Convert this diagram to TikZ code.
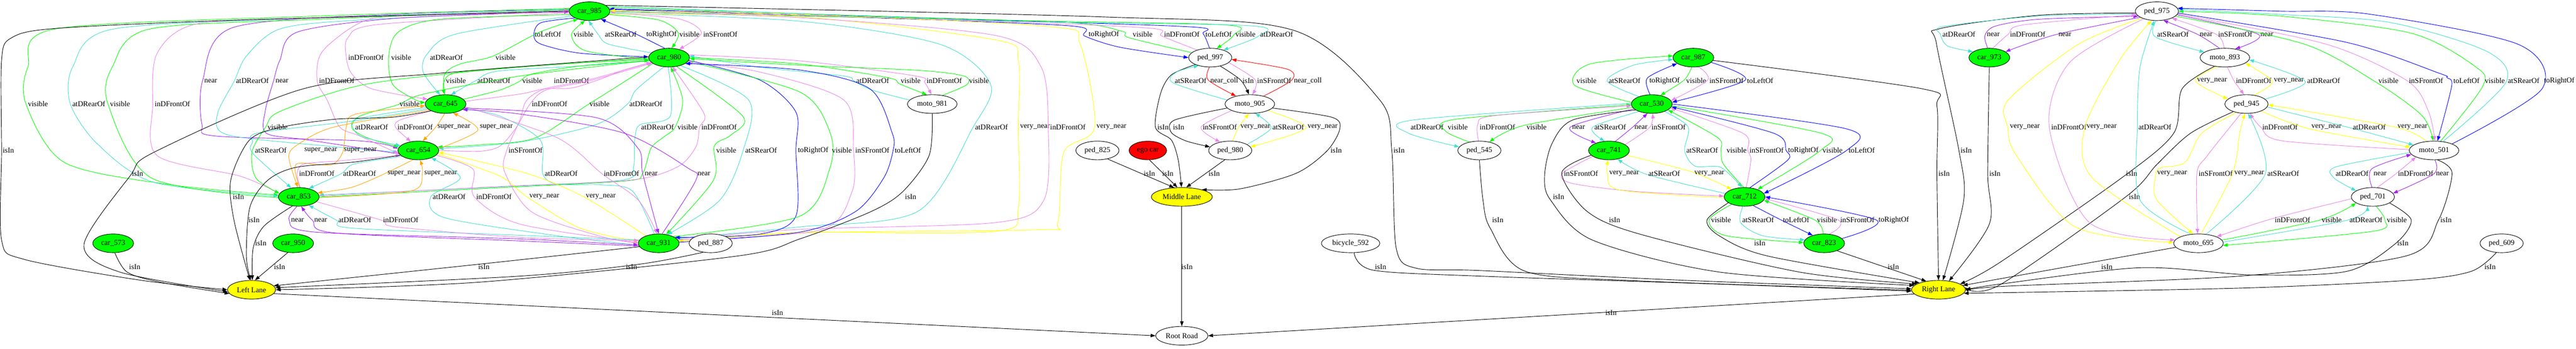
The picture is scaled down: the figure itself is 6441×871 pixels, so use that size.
\documentclass[tikz,border=0pt]{standalone}
\usepackage{fontspec}
\setmainfont{Liberation Serif}
\usetikzlibrary{shapes.geometric,arrows.meta}
\pgfdeclarelayer{bg}\pgfsetlayers{bg,main}
\definecolor{colG}{HTML}{00FF00}
\definecolor{colT}{HTML}{40E0D0}
\definecolor{colV}{HTML}{EE82EE}
\definecolor{colP}{HTML}{A020F0}
\definecolor{colB}{HTML}{0000FF}
\definecolor{colO}{HTML}{FFA500}
\definecolor{colY}{HTML}{FFFF00}
\definecolor{colR}{HTML}{FF0000}
\newcommand\fsz{\fontsize{14pt}{16pt}\selectfont}
\newcommand\edg[4]{\draw[ed,#1] plot[smooth] coordinates {#4} node[lab] at (#3) {#2};}
\begin{document}
\begin{tikzpicture}[x=0.75pt,y=-0.75pt,
  nd/.style={ellipse, draw=black, line width=0.9pt, minimum height=35pt, inner xsep=4.5pt, inner ysep=2pt, font=\fsz},
  car/.style={nd, fill=colG},
  lane/.style={nd, fill=colY},
  egos/.style={nd, fill=colR},
  plain/.style={nd, fill=white},
  ed/.style={line width=0.9pt, -{Triangle[length=9pt,width=6.5pt]}},
  lab/.style={font=\fsz, text=black, inner sep=0pt}]
\useasboundingbox (0,0) rectangle (6441,871);
% nodes
\node[car] (c985) at (1474,28) {car\_985};
\node[car] (c980) at (1673,144) {car\_980};
\node[car] (c645) at (1114,260) {car\_645};
\node[car] (c654) at (1046,376) {car\_654};
\node[car] (c853) at (747,492) {car\_853};
\node[car] (c931) at (1647,608) {car\_931};
\node[plain] (p887) at (1777,608) {ped\_887};
\node[car] (c573) at (283,608) {car\_573};
\node[car] (c950) at (733,608) {car\_950};
\node[lane] (LL) at (629,724) {Left Lane};
\node[plain] (m981) at (2331,260) {moto\_981};
\node[plain] (p997) at (3026,144) {ped\_997};
\node[plain] (m905) at (3125,260) {moto\_905};
\node[plain] (p980) at (3076,376) {ped\_980};
\node[plain] (p825) at (2744,376) {ped\_825};
\node[egos] (ego) at (2870,376) {ego car};
\node[lane] (ML) at (2955,492) {Middle Lane};
\node[plain] (RR) at (2955,839) {Root Road};
\node[plain] (b592) at (3377,608) {bicycle\_592};
\node[plain] (p545) at (3699,376) {ped\_545};
\node[car] (c741) at (4023,376) {car\_741};
\node[car] (c530) at (4130,260) {car\_530};
\node[car] (c987) at (4234,144) {car\_987};
\node[car] (c712) at (4362,492) {car\_712};
\node[car] (c823) at (4561,608) {car\_823};
\node[lane] (RL) at (4847,724) {Right Lane};
\node[car] (c973) at (4974,144) {car\_973};
\node[plain] (p975) at (5393,28) {ped\_975};
\node[plain] (m893) at (5563,144) {moto\_893};
\node[plain] (p945) at (5617,260) {ped\_945};
\node[plain] (m501) at (6086,376) {moto\_501};
\node[plain] (p701) at (5933,492) {ped\_701};
\node[plain] (m695) at (5497,608) {moto\_695};
\node[plain] (p609) at (6255,608) {ped\_609};
\begin{pgfonlayer}{bg}
\fill[white] (0,0) rectangle (6441,871);
% car_985 <-> car_980
\edg{colB}{toLeftOf}{1370,86}{(c985.205) (1352,57) (1335,87) (1352,110) (1451,133) (c980.178)}
\edg{colG}{visible}{1459,86}{(c980.185) (1465,127) (1429,87) (c985.245)}
\edg{colT}{atSRearOf}{1552,86}{(c980.165) (1521,110) (1495,85) (c985.265)}
\edg{colB}{toRightOf}{1654,86}{(c980.115) (1590,85) (c985.-35)}
\edg{colG}{visible}{1724,86}{(c985.-10) (1647,50) (1696,82) (c980.75)}
\edg{colV}{inSFrontOf}{1801,86}{(c985.-5) (1696,47) (1754,82) (c980.40)}
% car_985 <-> ped_997
\edg{colB}{toRightOf}{2760,86}{(c985.5) (2200,45) (2680,65) (2712,90) (2800,118) (p997.180)}
\edg{colG}{visible}{2857,86}{(p997.165) (2822,94) (2805,78) (2650,55) (2000,40) (c985.0)}
\edg{colV}{inDFrontOf}{2955,86}{(p997.150) (2905,90) (2870,70) (2400,50) (c985.3)}
\edg{colB}{toLeftOf}{3047,86}{(p997.95) (3008,84) (2975,67) (2400,48) (c985.7)}
\edg{colG}{visible}{3114,86}{(c985.12) (2500,50) (3060,62) (3084,88) (p997.55)}
\edg{colT}{atDRearOf}{3192,86}{(c985.16) (2500,52) (3120,64) (3147,90) (p997.30)}
% car_985 <-> car_645
\edg{colV}{inDFrontOf}{915,144}{(c985.185) (947,61) (870,94) (866,144) (880,185) (930,222) (c645.165)}
\edg{colG}{visible}{1003,144}{(c985.190) (1100,48) (996,80) (972,140) (982,211) (1040,250) (c645.175)}
\edg{colT}{atDRearOf}{1116,144}{(c985.195) (1140,85) (1068,135) (1058,180) (c645.120)}
\edg{colG}{visible}{1264,144}{(c645.95) (1112,185) (1150,160) (1233,140) (1350,80) (c985.215)}
% car_985 <-> car_654
\edg{colP}{near}{527,202}{(c985.175) (1000,35) (582,69) (507,200) (505,311) (540,340) (900,352) (c654.175)}
\edg{colT}{atDRearOf}{631,202}{(c985.178) (900,50) (701,72) (617,139) (586,202) (545,280) (550,328) (640,348) (c654.185)}
\edg{colP}{near}{705,202}{(c654.190) (772,350) (666,333) (663,278) (684,202) (700,150) (744,80) (1000,45) (c985.182)}
\edg{colV}{inDFrontOf}{842,202}{(c985.183) (1000,40) (898,58) (805,130) (793,202) (818,250) (850,318) (900,340) (c654.190)}
% car_980 <-> car_645
\edg{colG}{visible}{1140,202}{(c980.185) (1400,160) (1150,180) (1110,205) (c645.95)}
\edg{colT}{atDRearOf}{1235,202}{(c980.190) (1450,165) (1243,178) (1189,202) (c645.60)}
\edg{colG}{visible}{1331,202}{(c645.15) (1250,225) (1296,205) (1330,185) (1450,165) (c980.188)}
\edg{colV}{inDFrontOf}{1429,202}{(c645.8) (1300,235) (1362,222) (1429,220) (1495,200) (1560,175) (c980.195)}
% car_980 <-> moto_981
\edg{colT}{atDRearOf}{2182,202}{(m981.170) (2180,225) (2135,202) (2110,190) (1900,168) (c980.5)}
\edg{colG}{visible}{2277,202}{(c980.0) (2000,160) (2220,194) (2250,210) (m981.120)}
\edg{colV}{inDFrontOf}{2361,202}{(c980.8) (2000,152) (2290,190) (2312,206) (m981.95)}
\edg{colG}{visible}{2448,202}{(m981.40) (2418,211) (2410,190) (2300,176) (2000,163) (c980.-3)}
% car_980 <-> car_654
\edg{colG}{visible}{1024,260}{(c980.188) (1300,190) (1060,235) (994,262) (900,290) (880,320) (920,345) (c654.170)}
\edg{colV}{inDFrontOf}{1374,260}{(c654.0) (1200,378) (1250,365) (1290,320) (1325,260) (1365,225) (1470,203) (c980.198)}
\edg{colG}{visible}{1499,260}{(c980.200) (1533,222) (1469,262) (1337,345) (1200,362) (c654.10)}
\edg{colT}{atDRearOf}{1615,260}{(c980.240) (1590,225) (1569,260) (1491,311) (1300,355) (c654.5)}
% car_985 <-> car_853
\edg{colG}{visible}{95,260}{(c985.172) (800,40) (140,72) (70,167) (65,260) (161,406) (421,461) (c853.175)}
\edg{colT}{atDRearOf}{222,260}{(c985.174) (800,45) (281,73) (182,167) (176,260) (245,361) (386,456) (c853.178)}
\edg{colG}{visible}{300,260}{(c853.182) (379,445) (270,260) (281,167) (372,73) (800,48) (c985.176)}
\edg{colV}{inDFrontOf}{431,260}{(c853.170) (600,440) (393,389) (382,260) (393,133) (491,60) (800,45) (c985.178)}
% car_645 <-> car_654
\edg{colT}{atDRearOf}{929,318}{(c645.190) (894,297) (884,322) (909,343) (c654.165)}
\edg{colV}{inDFrontOf}{1038,318}{(c645.205) (1000,300) (989,318) (c654.130)}
\edg{colO}{super\_near}{1135,318}{(c645.265) (1090,317) (c654.65)}
\edg{colO}{super\_near}{1241,318}{(c654.5) (1195,325) (c645.-50)}
% car_980 <-> car_853
\edg{colG}{visible}{694,318}{(c980.182) (1250,172) (912,211) (701,278) (664,318) (630,380) (640,445) (c853.170)}
\edg{colT}{atDRearOf}{1644,318}{(c980.265) (1676,290) (1600,312) (1587,350) (1584,417) (1556,450) (1250,467) (c853.5)}
\edg{colG}{visible}{1719,318}{(c853.0) (1250,469) (1566,452) (1607,433) (1628,370) (1660,342) (1688,318) (1707,250) (c980.-80)}
\edg{colV}{inDFrontOf}{1798,318}{(c853.3) (1250,466) (1577,450) (1694,417) (1740,367) (1749,318) (1760,283) (c980.-70)}
% car_985 <-> car_931
\edg{colT}{atDRearOf}{2479,318}{(c985.-5) (2000,53) (2351,111) (2477,211) (2433,318) (2295,528) (2000,567) (c931.15)}
\edg{colY}{very\_near}{2588,318}{(c985.-8) (2000,42) (2491,100) (2546,150) (2546,318) (2546,520) (2491,578) (2000,581) (c931.8)}
\edg{colV}{inDFrontOf}{2670,318}{(c931.12) (2000,573) (2491,556) (2610,500) (2621,318) (2603,167) (2491,89) (2000,44) (c985.-2)}
\edg{colY}{very\_near}{2779,318}{(c931.5) (2000,582) (2596,574) (2645,556) (2660,380) (2737,318) (2701,111) (2631,67) (2000,36) (c985.2)}
% car_645 <-> car_853
\edg{colT}{atSRearOf}{677,376}{(c645.195) (885,302) (646,332) (632,355) (632,383) (c853.130)}
\edg{colO}{super\_near}{802,376}{(c645.200) (837,317) (751,357) (722,390) (c853.95)}
\edg{colO}{super\_near}{901,376}{(c853.85) (741,410) (827,412) (857,380) (866,317) (890,285) (c645.185)}
% car_980 <-> car_931
\edg{colV}{inSFrontOf}{1314,376}{(c980.195) (1470,200) (1362,222) (1316,252) (1300,300) (1267,376) (1262,430) (1330,530) (1500,590) (c931.180)}
\edg{colG}{visible}{1816,376}{(c980.-50) (1857,290) (1827,338) (1786,365) (1784,450) (c931.50)}
\edg{colT}{atSRearOf}{1903,376}{(c980.-35) (1872,250) (1858,376) (1800,500) (c931.45)}
\edg{colB}{toRightOf}{2033,376}{(c980.-8) (1900,200) (1990,280) (1990,376) (1990,540) (1900,585) (c931.20)}
\edg{colG}{visible}{2105,376}{(c931.25) (2000,540) (2075,420) (2075,330) (2000,230) (c980.-12)}
\edg{colV}{inSFrontOf}{2181,376}{(c931.10) (2050,575) (2130,480) (2134,376) (2110,250) (1900,180) (c980.-15)}
\edg{colB}{toLeftOf}{2270,376}{(c931.3) (2000,580) (2140,528) (2210,444) (2233,376) (2231,333) (2175,222) (2000,175) (c980.-20)}
% car_654 <-> car_853
\edg{colV}{inDFrontOf}{792,434}{(c853.82) (743,434) (760,410) (850,402) (c654.195)}
\edg{colT}{atDRearOf}{899,434}{(c654.200) (885,410) (853,434) (c853.40)}
\edg{colO}{super\_near}{1010,434}{(c654.240) (964,433) (880,468) (c853.12)}
\edg{colO}{super\_near}{1102,434}{(c853.-2) (1028,477) (1056,434) (c654.-80)}
% car_645 <-> car_931
\edg{colT}{atDRearOf}{1403,434}{(c931.115) (1582,478) (1505,462) (1393,460) (1357,434) (1351,350) (1250,290) (c645.-15)}
\edg{colV}{inDFrontOf}{1554,434}{(c645.-8) (1393,344) (1505,434) (1596,500) (c931.100)}
\edg{colP}{near}{1628,434}{(c645.-12) (1491,294) (1595,370) (1607,434) (c931.90)}
\edg{colP}{near}{1760,434}{(c931.70) (1740,450) (1720,420) (1561,333) (1300,285) (c645.-18)}
% car_654 <-> car_931
\edg{colT}{atDRearOf}{1123,492}{(c931.185) (1400,590) (1112,544) (1077,492) (1151,444) (c654.-30)}
\edg{colV}{inDFrontOf}{1235,492}{(c654.-15) (1182,422) (1186,492) (1300,560) (c931.178)}
\edg{colY}{very\_near}{1361,492}{(c654.-10) (1250,440) (1318,492) (1450,570) (c931.175)}
\edg{colY}{very\_near}{1502,492}{(c931.150) (1460,492) (1316,433) (c654.-5)}
% car_853 <-> car_931
\edg{colP}{near}{744,550}{(c853.260) (723,550) (789,580) (1300,597) (c931.185)}
\edg{colP}{near}{802,550}{(c931.188) (1300,602) (837,582) (781,550) (c853.-75)}
\edg{colT}{atDRearOf}{887,550}{(c931.170) (1300,588) (880,570) (841,550) (c853.-40)}
\edg{colV}{inDFrontOf}{1002,550}{(c853.-15) (953,550) (990,567) (1300,593) (c931.172)}
% Left Lane
\edg{black}{isIn}{21,376}{(c985.180) (600,50) (140,71) (28,95) (4,150) (4,376) (4,600) (60,648) (350,700) (LL.180)}
\edg{black}{isIn}{344,434}{(c980.178) (1100,183) (758,222) (386,380) (325,440) (210,611) (300,680) (LL.185)}
\edg{black}{isIn}{596,492}{(c645.205) (980,293) (837,298) (693,320) (622,352) (577,450) (585,550) (LL.100)}
\edg{black}{isIn}{635,550}{(c654.195) (885,405) (741,418) (670,450) (625,517) (616,640) (LL.95)}
\edg{black}{isIn}{652,608}{(c853.235) (660,565) (633,620) (LL.85)}
\edg{black}{isIn}{337,667}{(c573.280) (318,680) (400,705) (LL.190)}
\edg{black}{isIn}{699,667}{(c950.240) (LL.70)}
\edg{black}{isIn}{1210,667}{(c931.190) (1200,660) (LL.10)}
\edg{black}{isIn}{1579,667}{(p887.230) (1600,660) (1300,690) (LL.5)}
\edg{black}{isIn}{2277,492}{(m981.270) (2323,389) (2256,480) (2175,530) (2000,597) (1842,640) (1200,705) (LL.0)}
\edg{black}{isIn}{1944,782}{(LL.-10) (RR.180)}
% Middle Lane
\edg{black}{isIn}{2908,318}{(p997.205) (2929,187) (2902,233) (2889,318) (2929,350) (2946,400) (ML.92)}
\edg{black}{isIn}{2947,318}{(m905.190) (2937,300) (2928,330) (2965,352) (p980.170)}
\edg{black}{isIn}{2874,434}{(p825.-40) (ML.130)}
\edg{black}{isIn}{2920,434}{(ego.-80) (ML.115)}
\edg{black}{isIn}{3036,434}{(p980.-120) (ML.65)}
\edg{black}{isIn}{3341,376}{(m905.-10) (3330,293) (3350,322) (3318,377) (3241,433) (3100,472) (ML.20)}
\edg{black}{isIn}{2968,667}{(ML.270) (RR.90)}
\edg{black}{isIn}{4028,782}{(RL.190) (RR.0)}
\edg{black}{isIn}{3498,376}{(c985.20) (2750,42) (3232,75) (3450,250) (3480,376) (3491,620) (3540,670) (3700,676) (4200,700) (RL.178)}
% ped_997 <-> moto_905
\edg{colT}{atSRearOf}{2977,202}{(m905.170) (2933,207) (2942,180) (p997.215)}
\edg{colR}{near\_coll}{3061,202}{(p997.265) (3021,200) (m905.150)}
\edg{black}{isIn}{3121,202}{(p997.-40) (3102,200) (m905.95)}
\edg{colV}{inSFrontOf}{3186,202}{(p997.-15) (3139,200) (m905.75)}
\edg{colR}{near\_coll}{3270,202}{(m905.30) (3230,200) (3219,173) (p997.-5)}
% moto_905 <-> ped_980
\edg{colV}{inSFrontOf}{3050,318}{(m905.200) (3003,318) (p980.140)}
\edg{colY}{very\_near}{3139,318}{(p980.75) (3097,318) (m905.265)}
\edg{colT}{atSRearOf}{3221,318}{(p980.20) (3178,320) (m905.-60)}
\edg{colY}{very\_near}{3307,318}{(m905.-20) (3265,320) (p980.10)}
% car_530 <-> car_987
\edg{colG}{visible}{3967,202}{(c530.175) (3937,213) (3975,160) (c987.175)}
\edg{colT}{atSRearOf}{4062,202}{(c530.150) (4018,202) (4084,163) (c987.185)}
\edg{colB}{toRightOf}{4162,202}{(c530.100) (4119,195) (c987.200)}
\edg{colG}{visible}{4241,202}{(c987.260) (4211,200) (c530.45)}
\edg{colV}{inSFrontOf}{4317,202}{(c987.-60) (4270,200) (c530.10)}
\edg{colB}{toLeftOf}{4401,202}{(c987.-15) (4364,200) (c530.5)}
% car_530 <-> ped_545
\edg{colT}{atDRearOf}{3568,318}{(c530.178) (3533,300) (3522,333) (p545.170)}
\edg{colG}{visible}{3645,318}{(p545.140) (3615,328) (3640,298) (c530.182)}
\edg{colV}{inDFrontOf}{3744,318}{(p545.95) (3695,311) (3737,289) (c530.185)}
\edg{colG}{visible}{3842,318}{(c530.190) (3812,313) (p545.40)}
% car_530 <-> car_741
\edg{colP}{near}{3947,318}{(c530.195) (3926,318) (c741.150)}
\edg{colT}{atSRearOf}{4026,318}{(c530.210) (3982,318) (c741.115)}
\edg{colP}{near}{4103,318}{(c741.55) (4082,318) (c530.245)}
\edg{colV}{inSFrontOf}{4172,318}{(c741.20) (4125,318) (c530.275)}
% car_741 <-> car_712
\edg{colV}{inSFrontOf}{3953,434}{(c741.200) (3906,434) (3930,458) (4084,478) (c712.178)}
\edg{colY}{very\_near}{4061,434}{(c712.182) (4050,475) (4019,434) (c741.265)}
\edg{colT}{atSRearOf}{4161,434}{(c712.170) (4118,436) (c741.-45)}
\edg{colY}{very\_near}{4274,434}{(c741.-15) (4232,430) (c712.150)}
% car_530 <-> car_712
\edg{colT}{atSRearOf}{4256,376}{(c530.-30) (4221,317) (4212,376) (4238,415) (4302,418) (c712.105)}
\edg{colG}{visible}{4342,376}{(c712.95) (4309,410) (4303,376) (4295,344) (c530.-20)}
\edg{colV}{inSFrontOf}{4417,376}{(c712.80) (4378,400) (4370,376) (4358,333) (c530.-12)}
\edg{colB}{toRightOf}{4509,376}{(c712.60) (4470,400) (4466,376) (4435,333) (c530.-8)}
\edg{colG}{visible}{4582,376}{(c530.-5) (4554,333) (4552,376) (c712.30)}
\edg{colB}{toLeftOf}{4655,376}{(c530.0) (4617,322) (4617,376) (c712.10)}
% car_712 <-> car_823
\edg{colG}{visible}{4303,550}{(c712.210) (4273,550) (4316,589) (c823.178)}
\edg{colT}{atSRearOf}{4396,550}{(c712.260) (4352,556) (4407,589) (c823.170)}
\edg{colB}{toLeftOf}{4491,550}{(c712.-45) (4454,550) (c823.145)}
\edg{colG}{visible}{4568,550}{(c823.95) (4538,550) (c712.-10)}
\edg{colV}{inSFrontOf}{4644,550}{(c823.60) (4597,550) (c712.-5)}
\edg{colB}{toRightOf}{4735,550}{(c823.15) (4692,550) (c712.0)}
% Right Lane
\edg{black}{isIn}{3452,667}{(b592.-70) (3433,675) (3701,690) (4300,710) (RL.183)}
\edg{black}{isIn}{3745,550}{(p545.270) (3708,500) (3726,570) (3814,678) (4100,702) (RL.181)}
\edg{black}{isIn}{3897,492}{(c530.200) (3932,300) (3880,360) (3862,440) (3877,500) (3982,600) (4300,680) (RL.170)}
\edg{black}{isIn}{4037,550}{(c741.195) (3905,432) (3968,528) (4100,585) (4500,680) (RL.165)}
\edg{black}{isIn}{4400,608}{(c712.200) (4268,550) (4300,590) (4421,640) (RL.160)}
\edg{black}{isIn}{4734,667}{(c823.-30) (RL.145)}
\edg{black}{isIn}{4861,434}{(c987.-8) (4807,222) (4843,265) (4843,434) (RL.90)}
\edg{black}{isIn}{4988,434}{(c973.270) (4970,434) (4974,560) (RL.40)}
\edg{black}{isIn}{4916,376}{(p975.185) (5100,38) (4849,72) (4842,110) (4898,376) (4910,500) (RL.65)}
\edg{black}{isIn}{5330,434}{(m893.220) (5456,222) (5435,333) (5311,440) (5000,656) (RL.15)}
\edg{black}{isIn}{5337,492}{(p945.210) (5477,333) (5393,411) (5315,492) (5000,712) (RL.5)}
\edg{black}{isIn}{5268,667}{(m695.190) (RL.10)}
\edg{black}{isIn}{6008,608}{(p701.-20) (6029,550) (5988,610) (5868,678) (5631,687) (5351,669) (5000,710) (RL.0)}
\edg{black}{isIn}{6116,550}{(m501.-70) (6131,433) (6097,550) (6018,639) (5600,690) (5000,716) (RL.-5)}
\edg{black}{isIn}{6226,667}{(p609.240) (6179,678) (6029,700) (5600,720) (RL.-8)}
% ped_975 <-> car_973, moto_893
\edg{colT}{atDRearOf}{4898,86}{(p975.188) (5100,40) (4860,66) (4852,86) (4870,115) (c973.160)}
\edg{colP}{near}{4984,86}{(c973.100) (4963,89) (4990,65) (5100,48) (p975.195)}
\edg{colV}{inDFrontOf}{5070,86}{(c973.70) (5021,86) (5060,62) (p975.190)}
\edg{colP}{near}{5163,86}{(p975.200) (5142,86) (c973.20)}
\edg{colT}{atSRearOf}{5433,86}{(p975.265) (5389,92) (m893.165)}
\edg{colP}{near}{5516,86}{(m893.120) (5495,86) (p975.-55)}
\edg{colV}{inSFrontOf}{5589,86}{(m893.95) (5542,86) (p975.-25)}
\edg{colP}{near}{5668,86}{(p975.-10) (5647,86) (m893.40)}
% moto_893 <-> ped_945
\edg{colY}{very\_near}{5531,202}{(m893.230) (5489,202) (p945.165)}
\edg{colV}{inDFrontOf}{5635,202}{(m893.-75) (5586,202) (p945.105)}
\edg{colY}{very\_near}{5723,202}{(p945.50) (5681,204) (m893.-15)}
\edg{colT}{atDRearOf}{5810,202}{(p945.15) (5764,204) (m893.-5)}
% ped_975 <-> moto_501
\edg{colG}{visible}{5972,202}{(p975.-15) (5761,110) (5942,206) (6056,289) (m501.95)}
\edg{colV}{inSFrontOf}{6066,202}{(p975.-8) (5815,110) (6019,202) (6072,278) (m501.85)}
\edg{colB}{toLeftOf}{6167,202}{(p975.-5) (5868,106) (6099,183) (6118,194) (6130,215) (m501.70)}
\edg{colG}{visible}{6238,202}{(m501.55) (6208,215) (6190,167) (6029,83) (5700,40) (p975.0)}
\edg{colT}{atSRearOf}{6310,202}{(m501.45) (6266,205) (6217,128) (5975,56) (5700,36) (p975.5)}
\edg{colB}{toRightOf}{6399,202}{(m501.20) (6356,222) (6297,111) (5922,35) (5700,28) (p975.8)}
% ped_975 <-> moto_695
\edg{colY}{very\_near}{5063,318}{(p975.205) (5196,111) (5021,250) (5020,318) (5042,389) (5189,567) (m695.178)}
\edg{colV}{inDFrontOf}{5173,318}{(p975.210) (5175,156) (5124,318) (5224,556) (m695.172)}
\edg{colY}{very\_near}{5255,318}{(m695.160) (5231,444) (5213,318) (5300,150) (p975.240)}
\edg{colT}{atDRearOf}{5388,318}{(m695.130) (5351,500) (5344,318) (5351,167) (p975.255)}
% ped_945 <-> moto_501
\edg{colV}{inDFrontOf}{5701,318}{(m501.178) (5707,352) (5653,318) (p945.-70)}
\edg{colY}{very\_near}{5817,318}{(p945.-25) (5775,322) (m501.172)}
\edg{colT}{atDRearOf}{5924,318}{(p945.-8) (5878,320) (m501.165)}
\edg{colY}{very\_near}{6032,318}{(m501.130) (5990,318) (p945.-2)}
% ped_945 <-> moto_695
\edg{colY}{very\_near}{5431,434}{(p945.220) (5505,333) (5463,406) (5400,420) (5389,444) (5393,500) (m695.120)}
\edg{colV}{inSFrontOf}{5540,434}{(p945.240) (5519,389) (5493,434) (m695.95)}
\edg{colY}{very\_near}{5624,434}{(m695.75) (5582,434) (5600,333) (p945.260)}
\edg{colT}{atSRearOf}{5709,434}{(m695.50) (5664,434) (p945.-80)}
% moto_501 <-> ped_701
\edg{colT}{atDRearOf}{5881,434}{(m501.185) (5841,417) (5835,444) (p701.160)}
\edg{colP}{near}{5951,434}{(p701.95) (5930,422) (m501.190)}
\edg{colV}{inDFrontOf}{6040,434}{(p701.65) (5991,434) (m501.200)}
\edg{colP}{near}{6107,434}{(m501.-85) (6086,434) (p701.10)}
% ped_701 <-> moto_695
\edg{colV}{inDFrontOf}{5732,550}{(p701.185) (5683,546) (m695.20)}
\edg{colG}{visible}{5830,550}{(m695.8) (5800,550) (p701.200)}
\edg{colT}{atDRearOf}{5916,550}{(m695.3) (5870,550) (p701.240)}
\edg{colG}{visible}{5993,550}{(p701.-70) (5963,550) (5933,578) (m695.-5)}
\end{pgfonlayer}
\end{tikzpicture}
\end{document}
